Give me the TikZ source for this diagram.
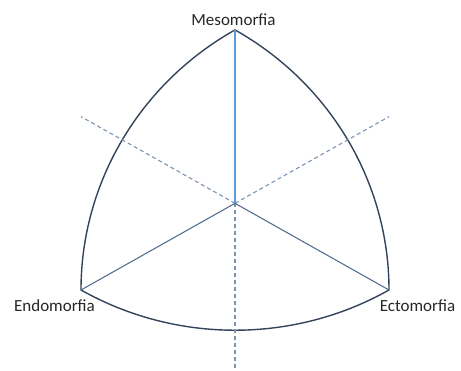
\documentclass[tikz,border=0pt]{standalone}
\usepackage{fontspec}
\setmainfont{Carlito}
\definecolor{arcc}{HTML}{33445A}
\definecolor{vblue}{HTML}{5B9BD5}
\definecolor{sgray}{HTML}{56708E}
\definecolor{dgray}{HTML}{7A94B4}
\definecolor{txt}{HTML}{262626}
\tikzset{
  outline/.style={draw=arcc, line width=1.4pt},
  vline/.style={draw=vblue, line width=1.1pt},
  sline/.style={draw=sgray, line width=1.1pt},
  dline/.style={draw=dgray, line width=1.1pt, dash pattern=on 4pt off 3pt},
  lab/.style={text=txt, font=\fontsize{17}{20}\selectfont, anchor=base, inner sep=0pt}
}
\begin{document}
\begin{tikzpicture}[x=1pt,y=1pt]
\useasboundingbox (0,0) rectangle (461,-371);
\begin{scope}[shift={(0,-290)}, yscale=0.975]
  \coordinate (L) at (81,0);
  \coordinate (R) at (389,0);
  \coordinate (T) at (235,266.74);
  \coordinate (C) at (235,88.91);
  \coordinate (DL) at (81,177.8);
  \coordinate (DR) at (389,177.8);
  \coordinate (DB) at (235,-82);
  \draw[outline] (L) arc[start angle=240,end angle=300,radius=308]
    arc[start angle=0,end angle=60,radius=308]
    arc[start angle=120,end angle=180,radius=308] -- cycle;
  \draw[dline] (C) -- (DL);
  \draw[dline] (C) -- (DR);
  \draw[dline] (C) -- (DB);
  \draw[sline] (C) -- (L);
  \draw[sline] (C) -- (R);
  \draw[vline] (C) -- (T);
\end{scope}
\node[lab] (meso) at (233.5,-26) {Mesomorfia};
\node[lab] (endo) at (54.5,-312) {Endomorfia};
\node[lab] (ecto) at (417.5,-312) {Ectomorfia};
\end{tikzpicture}
\end{document}
